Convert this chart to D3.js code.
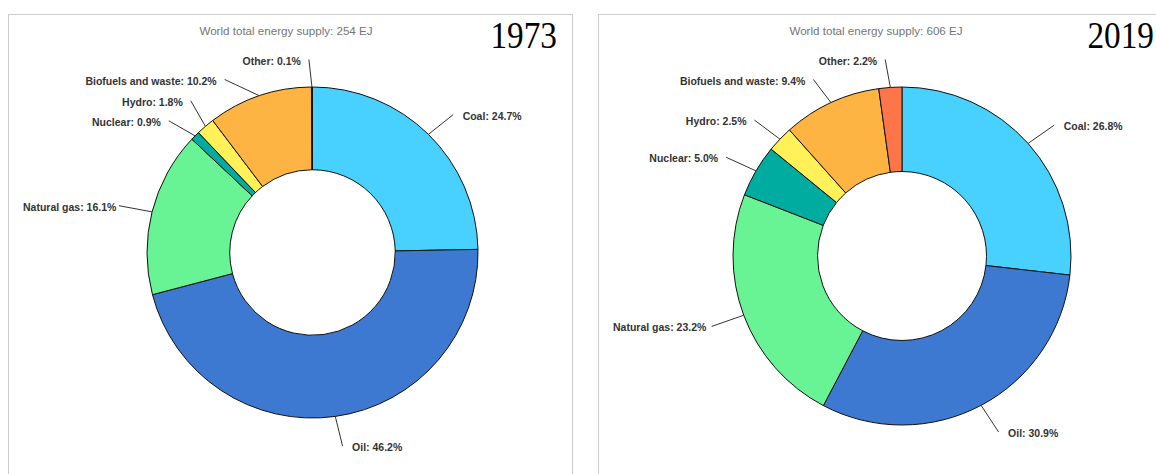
<!DOCTYPE html>
<html>
<head>
<meta charset="utf-8">
<script src="https://cdn.jsdelivr.net/npm/d3@7"></script>
<style>
  body { margin: 0; background: #fff; }
</style>
</head>
<body>
<div id="chart"></div>
<script>
// World total energy supply by source, 1973 vs 2019 (donuts)
const categories = ["Coal", "Oil", "Natural gas", "Nuclear", "Hydro", "Biofuels and waste", "Other"];
const share1973 = [24.7, 46.2, 16.1, 0.9, 1.8, 10.2, 0.1];
const share2019 = [26.8, 30.9, 23.2, 5.0, 2.5, 9.4, 2.2];
const years = ["1973", "2019"];
const totalsEJ = [254, 606];
const sliceColors = ["#48d1ff", "#3d78d1", "#68f494", "#00ab9f", "#fff157", "#fdb443", "#ff754a"];

const width = 1156, height = 474;
const labelFont = 10.5, labelGap = 20, labelTop = 59.5;

const panels = [
  {x: 8, y: 14, w: 564, cx: 312.5, cy: 252.5, r: 165.5, yearRight: 557, values: share1973, year: years[0], total: totalsEJ[0]},
  {x: 598, y: 14, w: 564, cx: 902, cy: 256, r: 169, yearRight: 1154, values: share2019, year: years[1], total: totalsEJ[1]}
];

const svg = d3.select("#chart").append("svg")
  .attr("width", width).attr("height", height);

const pie = d3.pie().sort(null).value(d => d);

// spread labels on one side so they don't overlap
function spread(items) {
  items.sort((a, b) => a.y0 - b.y0);
  let clusters = items.map(d => ({items: [d], y: d.y0}));
  let merged = true;
  while (merged) {
    merged = false;
    for (let i = 0; i < clusters.length - 1; i++) {
      const a = clusters[i], b = clusters[i + 1];
      const aBottom = a.y + (a.items.length - 1) * labelGap / 2;
      const bTop = b.y - (b.items.length - 1) * labelGap / 2;
      if (bTop - aBottom < labelGap) {
        const all = a.items.concat(b.items);
        clusters.splice(i, 2, {items: all, y: d3.mean(all, d => d.y0)});
        merged = true;
        break;
      }
    }
  }
  clusters.forEach(c => c.items.forEach((d, k) => d.y = c.y + (k - (c.items.length - 1) / 2) * labelGap));
  items.forEach((d, i) => {
    d.y = i === 0 ? Math.max(d.y, labelTop) : Math.max(d.y, items[i - 1].y + labelGap);
  });
}

panels.forEach(p => {
  const g = svg.append("g");

  g.append("rect")
    .attr("x", p.x + 0.5).attr("y", p.y + 0.5)
    .attr("width", p.w).attr("height", height)
    .attr("fill", "none").attr("stroke", "#cccccc");

  g.append("text")
    .attr("x", p.x + p.w / 2 - 4).attr("y", p.y + 21)
    .attr("text-anchor", "middle")
    .attr("font-family", "Liberation Sans, Arial, sans-serif")
    .attr("font-size", 11.6).attr("fill", "#757575")
    .text(`World total energy supply: ${p.total} EJ`);

  // year tag, a bit narrower than plain Times
  g.append("text")
    .attr("transform", `translate(${p.yearRight},${p.y + 34}) scale(0.9,1)`)
    .attr("text-anchor", "end")
    .attr("font-family", "Liberation Serif, Times New Roman, serif")
    .attr("font-size", 37).attr("fill", "#000")
    .text(p.year);

  const arcs = pie(p.values);
  const arc = d3.arc().innerRadius(p.r * 0.5).outerRadius(p.r);

  const donut = g.append("g").attr("transform", `translate(${p.cx},${p.cy})`);
  donut.selectAll("path").data(arcs).join("path")
    .attr("d", arc)
    .attr("fill", (d, i) => sliceColors[i])
    .attr("stroke", "#111").attr("stroke-width", 1);

  const rx = p.r + 31, ry = p.r + 29;
  const labels = arcs.map((d, i) => {
    const a = (d.startAngle + d.endAngle) / 2;
    return {
      i, a,
      side: Math.sin(a) < 0 ? -1 : 1,
      sx: p.cx + p.r * Math.sin(a), sy: p.cy - p.r * Math.cos(a),
      y0: p.cy - ry * Math.cos(a) + 1,
      text: `${categories[i]}: ${p.values[i].toFixed(1)}%`
    };
  });
  spread(labels.filter(d => d.side < 0));
  spread(labels.filter(d => d.side > 0));
  labels.forEach(d => {
    if (Math.abs(d.y - d.y0) < 1) {
      d.ex = p.cx + rx * Math.sin(d.a) + 3 * d.side;
    } else {
      const t = (d.y - p.cy - 1) / ry;
      d.ex = p.cx + d.side * rx * Math.sqrt(Math.max(0, 1 - t * t));
    }
    d.ey = d.y;
  });

  g.selectAll("line.leader").data(labels).join("line")
    .attr("class", "leader")
    .attr("x1", d => d.sx).attr("y1", d => d.sy)
    .attr("x2", d => d.ex).attr("y2", d => d.ey)
    .attr("stroke", "#333").attr("stroke-width", 1);

  g.selectAll("text.lbl").data(labels).join("text")
    .attr("class", "lbl")
    .attr("font-family", "Liberation Sans, Arial, sans-serif")
    .attr("font-size", labelFont).attr("font-weight", "bold").attr("fill", "#333")
    .attr("y", d => d.ey + 5)
    .attr("x", d => d.side > 0 ? d.ex + 9.5 : d.ex - 8)
    .attr("text-anchor", d => d.side > 0 ? "start" : "end")
    .text(d => d.text)
    .each(function (d) {
      // keep left labels inside the panel
      if (d.side < 0) {
        const w = this.getComputedTextLength();
        const minStart = p.x + 15;
        if (d.ex - 8 - w < minStart) d3.select(this).attr("x", minStart + w);
      }
    });
});
</script>
</body>
</html>
